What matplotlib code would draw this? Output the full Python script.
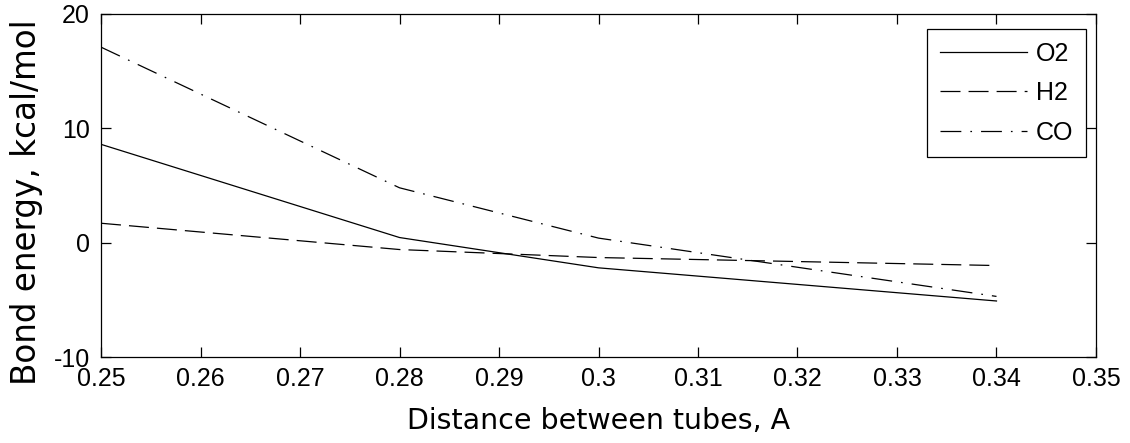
import numpy as np
import matplotlib
matplotlib.use('Agg')
import matplotlib.pyplot as plt

# data
dist = [0.25, 0.28, 0.30, 0.34]
o2 = [8.6, 0.45, -2.2, -5.1]
h2 = [1.7, -0.6, -1.3, -2.0]
co = [17.1, 4.8, 0.4, -4.7]

xticks = [0.25, 0.26, 0.27, 0.28, 0.29, 0.3, 0.31, 0.32, 0.33, 0.34, 0.35]
xticklabels = ['0.25', '0.26', '0.27', '0.28', '0.29', '0.3', '0.31', '0.32', '0.33', '0.34', '0.35']
yticks = [-10, 0, 10, 20]

plt.rcParams['lines.scale_dashes'] = False

fig = plt.figure(figsize=(11.3, 4.43), dpi=100)
ax = fig.add_axes([0.0894, 0.1941, 0.8805, 0.7743])

ax.plot(dist, o2, color='black', lw=0.9, linestyle='-', label='O2')
ax.plot(dist, h2, color='black', lw=0.9, linestyle=(0, (14.4, 5.8)), label='H2')
ax.plot(dist, co, color='black', lw=0.9, linestyle=(0, (15, 6.5, 1.2, 6.5)), label='CO')

ax.set_xlim(0.25, 0.35)
ax.set_ylim(-10, 20)
ax.set_xticks(xticks)
ax.set_xticklabels(xticklabels, fontfamily='Liberation Sans', fontsize=18)
ax.set_yticks(yticks)
ax.set_yticklabels([str(v) for v in yticks], fontfamily='Liberation Sans', fontsize=18)
ax.tick_params(direction='in', length=7.2, width=0.9, top=True, right=True)
ax.tick_params(axis='x', pad=7)
ax.tick_params(axis='y', pad=8)
for s in ax.spines.values():
    s.set_linewidth(0.9)

ax.set_xlabel('Distance between tubes, A', fontfamily='DejaVu Sans', fontsize=20.5)
ax.set_ylabel('Bond energy, kcal/mol', fontfamily='DejaVu Sans', fontsize=23.5)
ax.xaxis.set_label_coords(0.5, -0.146)
ax.yaxis.set_label_coords(-0.0583, 0.452)

leg = ax.legend(loc='upper right', bbox_to_anchor=(0.99, 0.956),
                prop={'family': 'Liberation Sans', 'size': 18},
                fancybox=False, framealpha=1, edgecolor='black',
                handlelength=3.5, handletextpad=0.35, labelspacing=0.62,
                borderpad=0.5, borderaxespad=0)
leg.get_frame().set_linewidth(0.9)

fig.savefig('out.png', dpi=100)
